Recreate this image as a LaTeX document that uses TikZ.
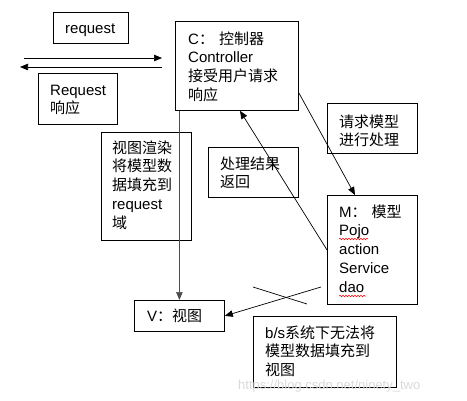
\documentclass[tikz,border=0pt]{standalone}
\usepackage{fontspec}
\setmainfont{Liberation Sans}
\newfontfamily\cjk{Noto Sans CJK SC}
\newcommand{\zh}[1]{{\cjk #1}}
\usepackage{tikz}
\usetikzlibrary{arrows.meta,decorations.pathmorphing}

\tikzset{
	box/.style={draw,line width=0.8pt,inner sep=0pt,anchor=north west},
	txt/.style={anchor=base west,inner sep=0pt,align=left,text width=140pt,
		font=\fontsize{15}{18.9}\selectfont},
	arr/.style={-{Triangle[length=8pt,width=6.5pt]},line width=0.7pt},
	squig/.style={red,line width=0.5pt,decorate,
		decoration={snake,amplitude=0.8pt,segment length=3pt}}
}

\begin{document}
\begin{tikzpicture}[x=1pt,y=-1pt]
				\useasboundingbox (0,0) rectangle (467,400);
				% boxes
				\node[box,minimum width=75pt,minimum height=31pt] (req) at (53,12) {};
				\node[box,minimum width=79pt,minimum height=51pt] (resp) at (38,73) {};
				\node[box,minimum width=123pt,minimum height=89pt] (ctrl) at (175,21) {};
				\node[box,minimum width=90pt,minimum height=50pt] (ask) at (327,103) {};
				\node[box,minimum width=90pt,minimum height=50pt] (back) at (208,147) {};
				\node[box,minimum width=90pt,minimum height=108pt] (render) at (101,132) {};
				\node[box,minimum width=90pt,minimum height=31pt] (view) at (134,300) {};
				\node[box,minimum width=90pt,minimum height=109pt] (model) at (327,195) {};
				\node[box,minimum width=143pt,minimum height=71pt] (note) at (253,316) {};
				
				% texts
				\node[txt] (reqtxt) at (65,33) {request};
				\node[txt] (resptxt) at (50,95) {Request\\\zh{响应}};
				\node[txt] (ctrltxt) at (188,44) {C\zh{：} \zh{控制器}\\Controller\\\zh{接受用户请求}\\\zh{响应}};
				\node[txt] (asktxt) at (339,127) {\zh{请求模型}\\\zh{进行处理}};
				\node[txt] (backtxt) at (220,169) {\zh{处理结果}\\\zh{返回}};
				\node[txt] (rendertxt) at (112,153) {\zh{视图渲染}\\\zh{将模型数}\\\zh{据填充到}\\request\\\zh{域}};
				\node[txt] (modeltxt) at (339,217) {M\zh{：} \zh{模型}\\Pojo\\action\\Service\\dao};
				\node[txt] (viewtxt) at (147,321) {V\zh{：视图}};
				\node[txt] (notetxt) at (265,338) {b/s\zh{系统下无法将}\\\zh{模型数据填充到}\\\zh{视图}};
				
				% spelling marks
				\draw[squig] (339,239) -- (368,239);
				\draw[squig] (339,296) -- (366,296);
				
				% request / response
				\coordinate (reqa) at (24,58);
				\coordinate (reqb) at (162,58);
				\coordinate (respa) at (162,67);
				\coordinate (respb) at (20,67);
				\draw[arr] (reqa) -- (reqb);
				\draw[arr] (respa) -- (respb);
				
				% flow
				\draw[arr,black!70] (view.north |- ctrl.south) -- (view.north);
				\draw[arr] ([yshift=18pt]ctrl.south east) -- ([xshift=28pt]model.north west);
				\draw[arr] (model.west) -- ([xshift=65pt]ctrl.south west);
				\coordinate (mv) at (321,287);
				\draw[arr] (mv) -- (view.east);
				% the cross
				\coordinate (xa) at (253,287);
				\coordinate (xb) at (307,304);
				\draw[line width=0.7pt] (xa) -- (xb);
				
				% \node at (236,386) {watermark};
				\node[anchor=base west,inner sep=0pt,text=gray!30,font=\fontsize{13}{13}\selectfont] (mark) at (238,389) {https://blog.csdn.net/ninety\_two};
			\end{tikzpicture}
\end{document}
